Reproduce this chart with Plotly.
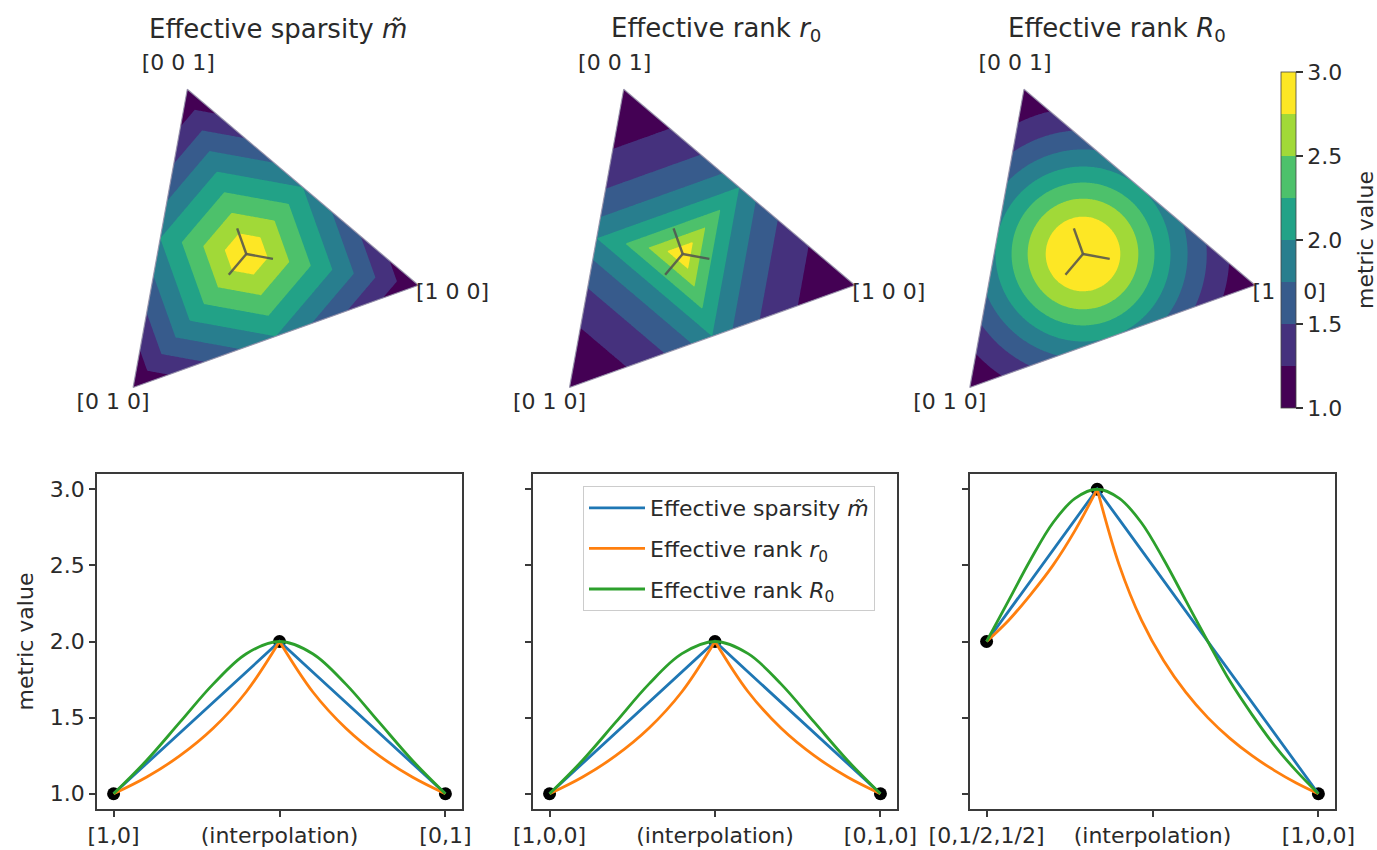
import numpy as np
import plotly.graph_objects as go
from plotly.colors import sample_colorscale

FIG_W, FIG_H = 1377, 850
FONT = "DejaVu Sans"
TXT = "#2a2a2a"

# ---------------------------------------------------------------- bands
levels = [1.0, 1.25, 1.5, 1.75, 2.0, 2.25, 2.5, 2.75, 3.0]
cbar_ticks = [1.0, 1.5, 2.0, 2.5, 3.0]
band_colors = sample_colorscale("Viridis", [i / 7 for i in range(8)])

# ---------------------------------------------------------------- texts
panel_titles = [
    "Effective sparsity <i>m\u0303</i>",
    "Effective rank <i>r</i><sub>0</sub>",
    "Effective rank <i>R</i><sub>0</sub>",
]
corner_labels = ["[1 0 0]", "[0 1 0]", "[0 0 1]"]
series_names = panel_titles
series_colors = ["#1f77b4", "#ff7f0e", "#2ca02c"]
xtick_labels = [
    ["[1,0]", "(interpolation)", "[0,1]"],
    ["[1,0,0]", "(interpolation)", "[0,1,0]"],
    ["[0,1/2,1/2]", "(interpolation)", "[1,0,0]"],
]
xtick_pos = [0.0, 0.5, 1.0]

# ------------------------------------------- interpolation along an edge
edge_pos = [0.0, 0.1, 0.2, 0.3, 0.4, 0.5, 0.6, 0.7, 0.8, 0.9, 1.0]
edge_sparsity = [1.0, 1.2, 1.4, 1.6, 1.8, 2.0, 1.8, 1.6, 1.4, 1.2, 1.0]
edge_rank_r0 = [1.0, 1.11, 1.25, 1.43, 1.67, 2.0, 1.67, 1.43, 1.25, 1.11, 1.0]
edge_rank_R0 = [1.0, 1.22, 1.47, 1.72, 1.92, 2.0, 1.92, 1.72, 1.47, 1.22, 1.0]
edge_peak = 5
edge_anchor_pos = [0.0, 0.5, 1.0]
edge_anchor_val = [1.0, 2.0, 1.0]

# ------------------------- interpolation midpoint -> centre -> vertex
path_pos = [0.0, 0.0667, 0.1333, 0.2, 0.2667, 0.3333, 0.4, 0.4667, 0.5333,
            0.6, 0.6667, 0.7333, 0.8, 0.8667, 0.9333, 1.0]
path_sparsity = [2.0, 2.2, 2.4, 2.6, 2.8, 3.0, 2.8, 2.6, 2.4, 2.2, 2.0,
                 1.8, 1.6, 1.4, 1.2, 1.0]
path_rank_r0 = [2.0, 2.14, 2.31, 2.5, 2.73, 3.0, 2.5, 2.14, 1.875, 1.667, 1.5,
                1.364, 1.25, 1.154, 1.071, 1.0]
path_rank_R0 = [2.0, 2.27, 2.54, 2.78, 2.94, 3.0, 2.94, 2.78, 2.54, 2.27, 2.0,
                1.74, 1.52, 1.32, 1.15, 1.0]
path_peak = 5
path_anchor_pos = [0.0, 0.3333, 1.0]
path_anchor_val = [2.0, 3.0, 1.0]

line_panels = [
    (edge_pos, [edge_sparsity, edge_rank_r0, edge_rank_R0], edge_peak, edge_anchor_pos, edge_anchor_val),
    (edge_pos, [edge_sparsity, edge_rank_r0, edge_rank_R0], edge_peak, edge_anchor_pos, edge_anchor_val),
    (path_pos, [path_sparsity, path_rank_r0, path_rank_R0], path_peak, path_anchor_pos, path_anchor_val),
]


# ------------------------------------------------------ simplex metrics
def effective_sparsity(p):
    return 3.0 - 2.0 * (p.max(axis=0) - p.min(axis=0))


def effective_rank_r0(p):
    return p.sum(axis=0) / p.max(axis=0)


def effective_rank_R0(p):
    return p.sum(axis=0) ** 2 / (p ** 2).sum(axis=0)


metrics = [effective_sparsity, effective_rank_r0, effective_rank_R0]

# view of the simplex: unit vectors e1, e2, e3 seen in the drawing plane
view_angles = np.deg2rad([-10.3, 229.7, 109.7])
V = np.stack([np.cos(view_angles), np.sin(view_angles)], axis=1)
to_bary = np.linalg.inv(np.vstack([V.T, np.ones(3)]))

gx = np.linspace(-0.69, 1.015, 281)
gy = np.linspace(-0.80, 0.975, 281)
GX, GY = np.meshgrid(gx, gy)
P = np.tensordot(to_bary, np.stack([GX, GY, np.ones_like(GX)]), axes=1)

# layout geometry of the simplex panels (pixels)
PX_PER_UNIT = 175.0
centres_px = [246.3, 682.7, 1083.0]
centre_y_px = 254.0
pad_l, pad_r, pad_t, pad_b = 140, 215, 200, 160
label_offsets_px = [(34, 8), (-20, 16), (-9, -25)]
arm_frac = 0.155

# layout geometry of the line panels (pixels)
line_boxes_px = [(97, 462), (533, 897), (970, 1335)]
line_top_px, line_bottom_px = 474, 809

fig = go.Figure()
layout_axes = {}


def ax_names(i):
    s = "" if i == 0 else str(i + 1)
    return "x" + s, "y" + s, "xaxis" + s, "yaxis" + s


# ------------------------------------------------------------ top row
tri = np.vstack([V, V[:1]])
for k in range(3):
    xr, yr, xk, yk = ax_names(k)
    Z = np.round(metrics[k](P), 3).tolist()

    # lowest band underneath everything
    fig.add_trace(go.Heatmap(
        x=[gx[0], gx[-1]], y=[gy[0], gy[-1]], z=[[0]],
        colorscale=[[0, band_colors[0]], [1, band_colors[0]]],
        showscale=False, showlegend=False, hoverinfo="skip",
        xaxis=xr, yaxis=yr))
    # each higher band painted where the metric reaches its level
    for lev, col in zip(levels[1:-1], band_colors[1:]):
        fig.add_trace(go.Contour(
            x=gx, y=gy, z=Z,
            contours=dict(type="constraint", operation="<", value=lev),
            fillcolor=col, line=dict(width=0), showscale=False,
            showlegend=False, hoverinfo="skip", xaxis=xr, yaxis=yr))

    # white cover outside the simplex
    mx, my = [], []
    for a, b in zip(V, np.roll(V, -1, axis=0)):
        d = (b - a) / np.linalg.norm(b - a)
        n = np.array([d[1], -d[0]])
        if np.dot(n, (a + b) / 2) < 0:
            n = -n
        quad = [a - 2 * d, b + 2 * d, b + 2 * d + 2 * n, a - 2 * d + 2 * n]
        mx += [q[0] for q in quad] + [None]
        my += [q[1] for q in quad] + [None]
    fig.add_trace(go.Scatter(
        x=mx, y=my, mode="lines", fill="toself", fillcolor="white",
        line=dict(width=0, color="white"), hoverinfo="skip",
        showlegend=False, xaxis=xr, yaxis=yr))

    # simplex outline
    fig.add_trace(go.Scatter(
        x=tri[:, 0], y=tri[:, 1], mode="lines",
        line=dict(color="rgba(150,145,170,0.9)", width=1.2),
        hoverinfo="skip", showlegend=False, xaxis=xr, yaxis=yr))

    # axis directions from the centre
    ax_x, ax_y = [], []
    for v in V:
        ax_x += [0.0, arm_frac * v[0], None]
        ax_y += [0.0, arm_frac * v[1], None]
    fig.add_trace(go.Scatter(
        x=ax_x, y=ax_y, mode="lines",
        line=dict(color="rgba(80,80,80,0.85)", width=2.4),
        hoverinfo="skip", showlegend=False, xaxis=xr, yaxis=yr))

    # corner labels
    lx = [float(V[j, 0] + label_offsets_px[j][0] / PX_PER_UNIT) for j in range(3)]
    ly = [float(V[j, 1] - label_offsets_px[j][1] / PX_PER_UNIT) for j in range(3)]
    fig.add_trace(go.Scatter(
        x=lx, y=ly, mode="text", text=corner_labels,
        textfont=dict(family=FONT, size=22, color=TXT),
        textposition="middle center", cliponaxis=False,
        hoverinfo="skip", showlegend=False, xaxis=xr, yaxis=yr))

    cx = centres_px[k]
    x_dom = [(cx - pad_l) / FIG_W, (cx + pad_r) / FIG_W]
    y_dom = [1 - (centre_y_px + pad_b) / FIG_H, 1 - (centre_y_px - pad_t) / FIG_H]
    layout_axes[xk] = dict(domain=x_dom, range=[-pad_l / PX_PER_UNIT, pad_r / PX_PER_UNIT],
                           visible=False, anchor=yr, fixedrange=True)
    layout_axes[yk] = dict(domain=y_dom, range=[-pad_b / PX_PER_UNIT, pad_t / PX_PER_UNIT],
                           visible=False, anchor=xr, fixedrange=True)

# colour bar for the metric bands
stepped = []
for i, c in enumerate(band_colors):
    stepped += [[i / 8, c], [(i + 1) / 8, c]]
fig.add_trace(go.Scatter(
    x=[0], y=[0], mode="markers", xaxis="x3", yaxis="y3",
    marker=dict(size=0, opacity=0, color=[2.0], cmin=1.0, cmax=3.0,
                colorscale=stepped, showscale=True,
                colorbar=dict(
                    x=1281 / FIG_W, xanchor="left", xpad=0,
                    y=1 - 240 / FIG_H, yanchor="middle", ypad=0,
                    len=336, lenmode="pixels", thickness=15,
                    outlinewidth=0.8, outlinecolor="#444",
                    tickvals=cbar_ticks, ticktext=[f"{t:.1f}" for t in cbar_ticks],
                    ticks="outside", ticklen=7, tickwidth=1.5, tickcolor="#333",
                    tickfont=dict(family=FONT, size=22, color=TXT))),
    hoverinfo="skip", showlegend=False))

# ------------------------------------------------------------ bottom row
for k in range(3):
    xr, yr, xk, yk = ax_names(k + 3)
    pos, series, peak, apos, aval = line_panels[k]

    fig.add_trace(go.Scatter(
        x=apos, y=aval, mode="markers",
        marker=dict(color="black", size=13), hoverinfo="skip",
        showlegend=False, xaxis=xr, yaxis=yr, cliponaxis=False))

    for j, (vals, name, col) in enumerate(zip(series, series_names, series_colors)):
        if j == 0:
            xs, ys, shape = pos, vals, "linear"
        elif j == 1:
            xs = pos[:peak + 1] + [None] + pos[peak:]
            ys = vals[:peak + 1] + [None] + vals[peak:]
            shape = "spline"
        else:
            xs, ys, shape = pos, vals, "spline"
        fig.add_trace(go.Scatter(
            x=xs, y=ys, mode="lines", name=name, legendgroup=f"g{j}",
            line=dict(color=col, width=2.8, shape=shape),
            connectgaps=False, showlegend=(k == 1), hoverinfo="skip",
            xaxis=xr, yaxis=yr))

    x0, x1 = line_boxes_px[k]
    layout_axes[xk] = dict(
        domain=[x0 / FIG_W, x1 / FIG_W], range=[-0.05, 1.05], anchor=yr,
        tickvals=xtick_pos, ticktext=xtick_labels[k])
    layout_axes[yk] = dict(
        domain=[1 - line_bottom_px / FIG_H, 1 - line_top_px / FIG_H],
        range=[0.9, 3.1], anchor=xr,
        tickvals=cbar_ticks, ticktext=[f"{t:.1f}" for t in cbar_ticks],
        showticklabels=(k == 0))
    for key in (xk, yk):
        layout_axes[key].update(
            showline=True, mirror=True, linecolor="#3a3a3a", linewidth=1.6,
            ticks="outside", ticklen=6, tickwidth=1.5, tickcolor="#3a3a3a",
            showgrid=False, zeroline=False, fixedrange=True,
            tickfont=dict(family=FONT, size=22, color=TXT))

annotations = []
title_centres_px = [278, 716, 1117]
for k in range(3):
    annotations.append(dict(
        text=panel_titles[k], x=title_centres_px[k] / FIG_W, y=1 - 29 / FIG_H,
        xref="paper", yref="paper", xanchor="center", yanchor="middle",
        showarrow=False, font=dict(family=FONT, size=26, color=TXT)))
annotations.append(dict(
    text="metric value", x=25 / FIG_W, y=1 - 641.5 / FIG_H, xref="paper", yref="paper",
    xanchor="center", yanchor="middle", textangle=-90, showarrow=False,
    font=dict(family=FONT, size=22, color=TXT)))
annotations.append(dict(
    text="metric value", x=1365 / FIG_W, y=1 - 240 / FIG_H, xref="paper", yref="paper",
    xanchor="center", yanchor="middle", textangle=-90, showarrow=False,
    font=dict(family=FONT, size=22, color=TXT)))

fig.update_layout(
    width=FIG_W, height=FIG_H, autosize=False,
    margin=dict(l=0, r=0, t=0, b=0),
    template="none",
    paper_bgcolor="white", plot_bgcolor="rgba(0,0,0,0)",
    font=dict(family=FONT, size=22, color=TXT),
    annotations=annotations,
    legend=dict(
        x=583 / FIG_W, y=1 - 486 / FIG_H, xanchor="left", yanchor="top",
        bgcolor="rgba(255,255,255,0.85)", bordercolor="#cccccc", borderwidth=1,
        font=dict(family=FONT, size=22, color=TXT),
        tracegroupgap=9, itemwidth=56, traceorder="grouped"),
    **layout_axes,
)

fig.write_html("out.html")
